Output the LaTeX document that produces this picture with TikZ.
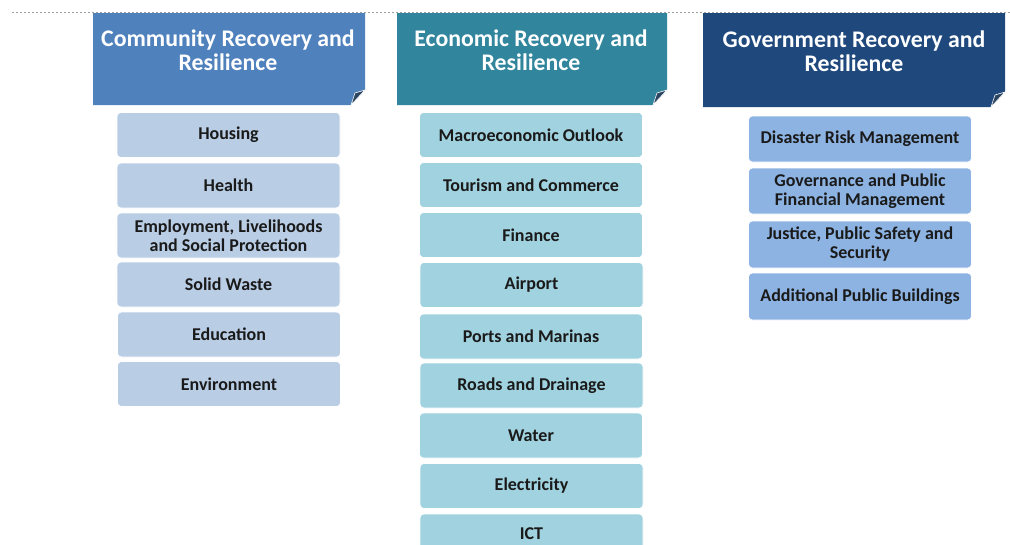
\documentclass[tikz,border=0pt]{standalone}
\usepackage{fontspec}
\setmainfont{Carlito}
\definecolor{commH}{HTML}{4F81BD}
\definecolor{econH}{HTML}{31859C}
\definecolor{govH}{HTML}{1F497D}
\definecolor{commI}{HTML}{B9CDE5}
\definecolor{econI}{HTML}{A0D2DF}
\definecolor{govI}{HTML}{8DB3E2}
\definecolor{foldC}{HTML}{2B4560}
\definecolor{txt}{HTML}{1A1A1A}
\tikzset{
  item/.style={rounded corners=4pt, minimum width=223pt, minimum height=45pt, inner sep=0pt,
    align=center, font=\bfseries\fontsize{18}{19}\selectfont, text=txt, draw=white, line width=0.6pt},
  headtext/.style={align=center, text=white, font=\bfseries\fontsize{23.8}{24.5}\selectfont, inner sep=0pt},
  fold/.style={fill=foldC, draw=white, line width=0.6pt},
}
\begin{document}
\begin{tikzpicture}[x=1pt,y=-1pt]
\useasboundingbox[fill=white] (0,0) rectangle (1010,544);
\draw[gray!75, line width=1pt, dash pattern=on 2pt off 2pt] (12,12) -- (1010,12);
% headers
\fill[commH] (93,13) -- (365,13) -- (365,90) -- (351,105) -- (93,105) -- cycle;
\path[fold] (365,90) -- (355,93) -- (351,105) -- cycle;
\fill[econH] (397,13) -- (667,13) -- (667,90) -- (653,105) -- (397,105) -- cycle;
\path[fold] (667,90) -- (657,93) -- (653,105) -- cycle;
\fill[govH] (703,13) -- (1005,13) -- (1005,92) -- (991,107) -- (703,107) -- cycle;
\path[fold] (1005,92) -- (995,95) -- (991,107) -- cycle;
\node[headtext] (hc) at (228,50) {Community Recovery and\\Resilience};
\node[headtext] (he) at (531,50) {Economic Recovery and\\Resilience};
\node[headtext] (hg) at (854,51) {Government Recovery and\\Resilience};
% community items
\node[item, fill=commI] (c1) at (228.5,135) {Housing};
\node[item, fill=commI] (c2) at (228.5,185.5) {Health};
\node[item, fill=commI] (c3) at (228.5,235.5) {Employment, Livelihoods\\and Social Protection};
\node[item, fill=commI] (c4) at (228.5,284.5) {Solid Waste};
\node[item, fill=commI] (c5) at (229,334.5) {Education};
\node[item, fill=commI] (c6) at (229,384) {Environment};
% economic items
\node[item, fill=econI] (e1) at (531,135) {Macroeconomic Outlook};
\node[item, fill=econI] (e2) at (531,185) {Tourism and Commerce};
\node[item, fill=econI] (e3) at (531,235) {Finance};
\node[item, fill=econI] (e4) at (531.5,285) {Airport};
\node[item, fill=econI] (e5) at (531,336.5) {Ports and Marinas};
\node[item, fill=econI] (e6) at (531.5,385.5) {Roads and Drainage};
\node[item, fill=econI] (e7) at (531,435.5) {Water};
\node[item, fill=econI] (e8) at (531.5,486) {Electricity};
\node[item, fill=econI, minimum height=40pt] (e9) at (531.5,534) {ICT};
% government items
\node[item, fill=govI, minimum height=46pt] (g1) at (860,139) {Disaster Risk Management};
\node[item, fill=govI, minimum height=46pt] (g2) at (860,191) {Governance and Public\\Financial Management};
\node[item, fill=govI, minimum height=47pt] (g3) at (860,244.5) {Justice, Public Safety and\\Security};
\node[item, fill=govI, minimum height=47pt] (g4) at (860,296.5) {Additional Public Buildings};
\end{tikzpicture}
\end{document}
